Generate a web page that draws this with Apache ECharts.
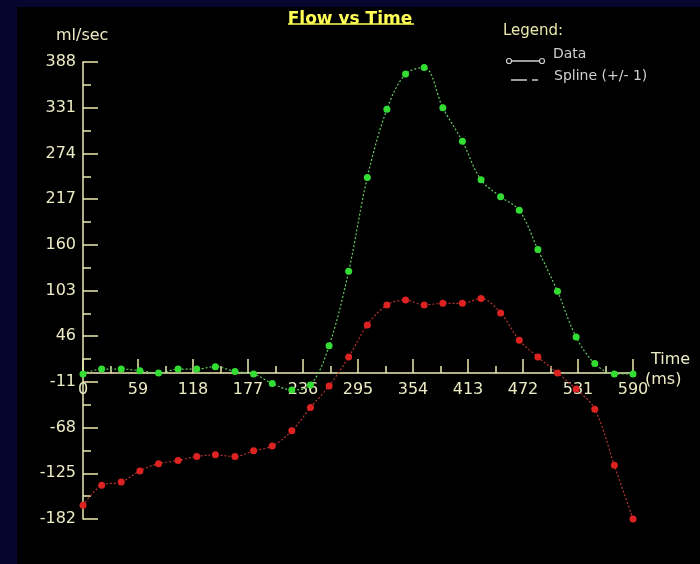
<!DOCTYPE html>
<html>
<head>
<meta charset="utf-8">
<script src="https://cdn.jsdelivr.net/npm/echarts@6/dist/echarts.min.js"></script>
<style>html,body{margin:0;padding:0;background:#05052d;}#c{width:700px;height:564px;}</style>
</head>
<body>
<div id="c"></div>
<script>
// Time (ms) of each sample
const times = [0,20,41,61,81,102,122,142,163,183,203,224,244,264,285,305,326,346,366,386,407,427,448,468,488,509,529,549,570,590];
// Green trace (ml/sec)
const greenFlow = [-1,5,5,3,0,5,5,8,2,-1,-13,-21,-15,34,127,244,329,373,381,331,289,241,220,203,154,102,45,12,-1,-1];
// Red trace (ml/sec)
const redFlow = [-165,-140,-136,-122,-113,-109,-104,-102,-104,-97,-91,-72,-43,-16,20,60,85,91,85,87,87,93,75,41,20,0,-20,-45,-115,-182];
// Axis tick labels
const yTickLabels = [-182,-125,-68,-11,46,103,160,217,274,331,388];
const yMinorTicks = [-153.5,-96.5,-39.5,17.5,74.5,131.5,188.5,245.5,302.5,359.5];
const xTickLabels = [0,59,118,177,236,295,354,413,472,531,590];

const axisColor = '#ecebb0';
const labelColor = '#ecebc4';
const font = 'DejaVu Sans';

const chart = echarts.init(document.getElementById('c'), null, {renderer:'canvas'});
const pairs = (vals) => times.map((t, i) => [t, vals[i]]);

chart.setOption({
  backgroundColor: '#05052d',
  animation: false,
  title: {
    text: 'Flow vs Time',
    left: 'center',
    top: 6,
    textStyle: {color: '#ffff55', fontFamily: font, fontSize: 17, fontWeight: 'bold'}
  },
  grid: {left: 83, right: 67, top: 62, bottom: 45, containLabel: false},
  xAxis: {
    type: 'value', min: 0, max: 590, interval: 59, offset: -146,
    axisLine: {show: true, onZero: false, lineStyle: {color: axisColor, width: 1.5}},
    axisTick: {show: true, inside: true, length: 14, lineStyle: {color: axisColor, width: 1.5}},
    minorTick: {show: true, splitNumber: 2, length: 7, lineStyle: {color: axisColor, width: 1.5}},
    axisLabel: {show: true, color: labelColor, fontFamily: font, fontSize: 16, margin: 9, customValues: xTickLabels},
    splitLine: {show: false}, minorSplitLine: {show: false}
  },
  yAxis: [{
    type: 'value', min: -182, max: 388,
    axisLine: {show: true, onZero: false, lineStyle: {color: axisColor, width: 1.5}},
    axisTick: {show: true, inside: true, length: 15, customValues: yTickLabels, lineStyle: {color: axisColor, width: 1.5}},
    axisLabel: {show: true, customValues: yTickLabels, color: labelColor, fontFamily: font, fontSize: 16, margin: 7},
    splitLine: {show: false}
  }, {
    type: 'value', min: -182, max: 388, position: 'left', offset: 0,
    axisLine: {show: false, onZero: false},
    axisTick: {show: true, inside: true, length: 8, customValues: yMinorTicks, lineStyle: {color: axisColor, width: 1.5}},
    axisLabel: {show: false},
    splitLine: {show: false}
  }],
  graphic: [
    {type: 'rect', z: -10, shape: {x: 17, y: 7, width: 683, height: 557}, style: {fill: '#000000'}, silent: true},
    {type: 'line', shape: {x1: 288, y1: 24, x2: 414, y2: 24}, style: {stroke: '#ffff55', lineWidth: 1.5}},
    {type: 'text', left: 56, top: 28, style: {text: 'ml/sec', fill: labelColor, font: '16px "DejaVu Sans"'}},
    {type: 'text', left: 503, top: 24, style: {text: 'Legend:', fill: '#e8e8aa', font: '15px "DejaVu Sans"'}},
    {type: 'text', left: 553, top: 47, style: {text: 'Data', fill: '#cfcfcf', font: '14px "DejaVu Sans"'}},
    {type: 'text', left: 554, top: 69, style: {text: 'Spline (+/- 1)', fill: '#cfcfcf', font: '14px "DejaVu Sans"'}},
    {type: 'line', shape: {x1: 510, y1: 61, x2: 540, y2: 61}, style: {stroke: '#cfcfcf', lineWidth: 1.5}},
    {type: 'circle', shape: {cx: 509, cy: 61, r: 2.5}, style: {stroke: '#cfcfcf', fill: '#000', lineWidth: 1.2}},
    {type: 'circle', shape: {cx: 542, cy: 61, r: 2.5}, style: {stroke: '#cfcfcf', fill: '#000', lineWidth: 1.2}},
    {type: 'line', shape: {x1: 511, y1: 80, x2: 527, y2: 80}, style: {stroke: '#cfcfcf', lineWidth: 1.5}},
    {type: 'line', shape: {x1: 532, y1: 80, x2: 538, y2: 80}, style: {stroke: '#cfcfcf', lineWidth: 1.5}},
    {type: 'text', left: 651, top: 352, style: {text: 'Time', fill: labelColor, font: '16px "DejaVu Sans"'}},
    {type: 'text', left: 645, top: 372, style: {text: '(ms)', fill: labelColor, font: '16px "DejaVu Sans"'}}
  ],
  series: [{
    name: 'Green', type: 'line', smooth: 0.35, data: pairs(greenFlow),
    symbol: 'circle', symbolSize: 7, z: 3,
    itemStyle: {color: '#33dd33'},
    lineStyle: {color: '#66cc66', width: 1.2, type: [2, 2]}
  }, {
    name: 'Red', type: 'line', smooth: 0.35, data: pairs(redFlow),
    symbol: 'circle', symbolSize: 7, z: 2,
    itemStyle: {color: '#dd2222'},
    lineStyle: {color: '#b83333', width: 1.2, type: [2, 2]}
  }]
});
</script>
</body>
</html>
